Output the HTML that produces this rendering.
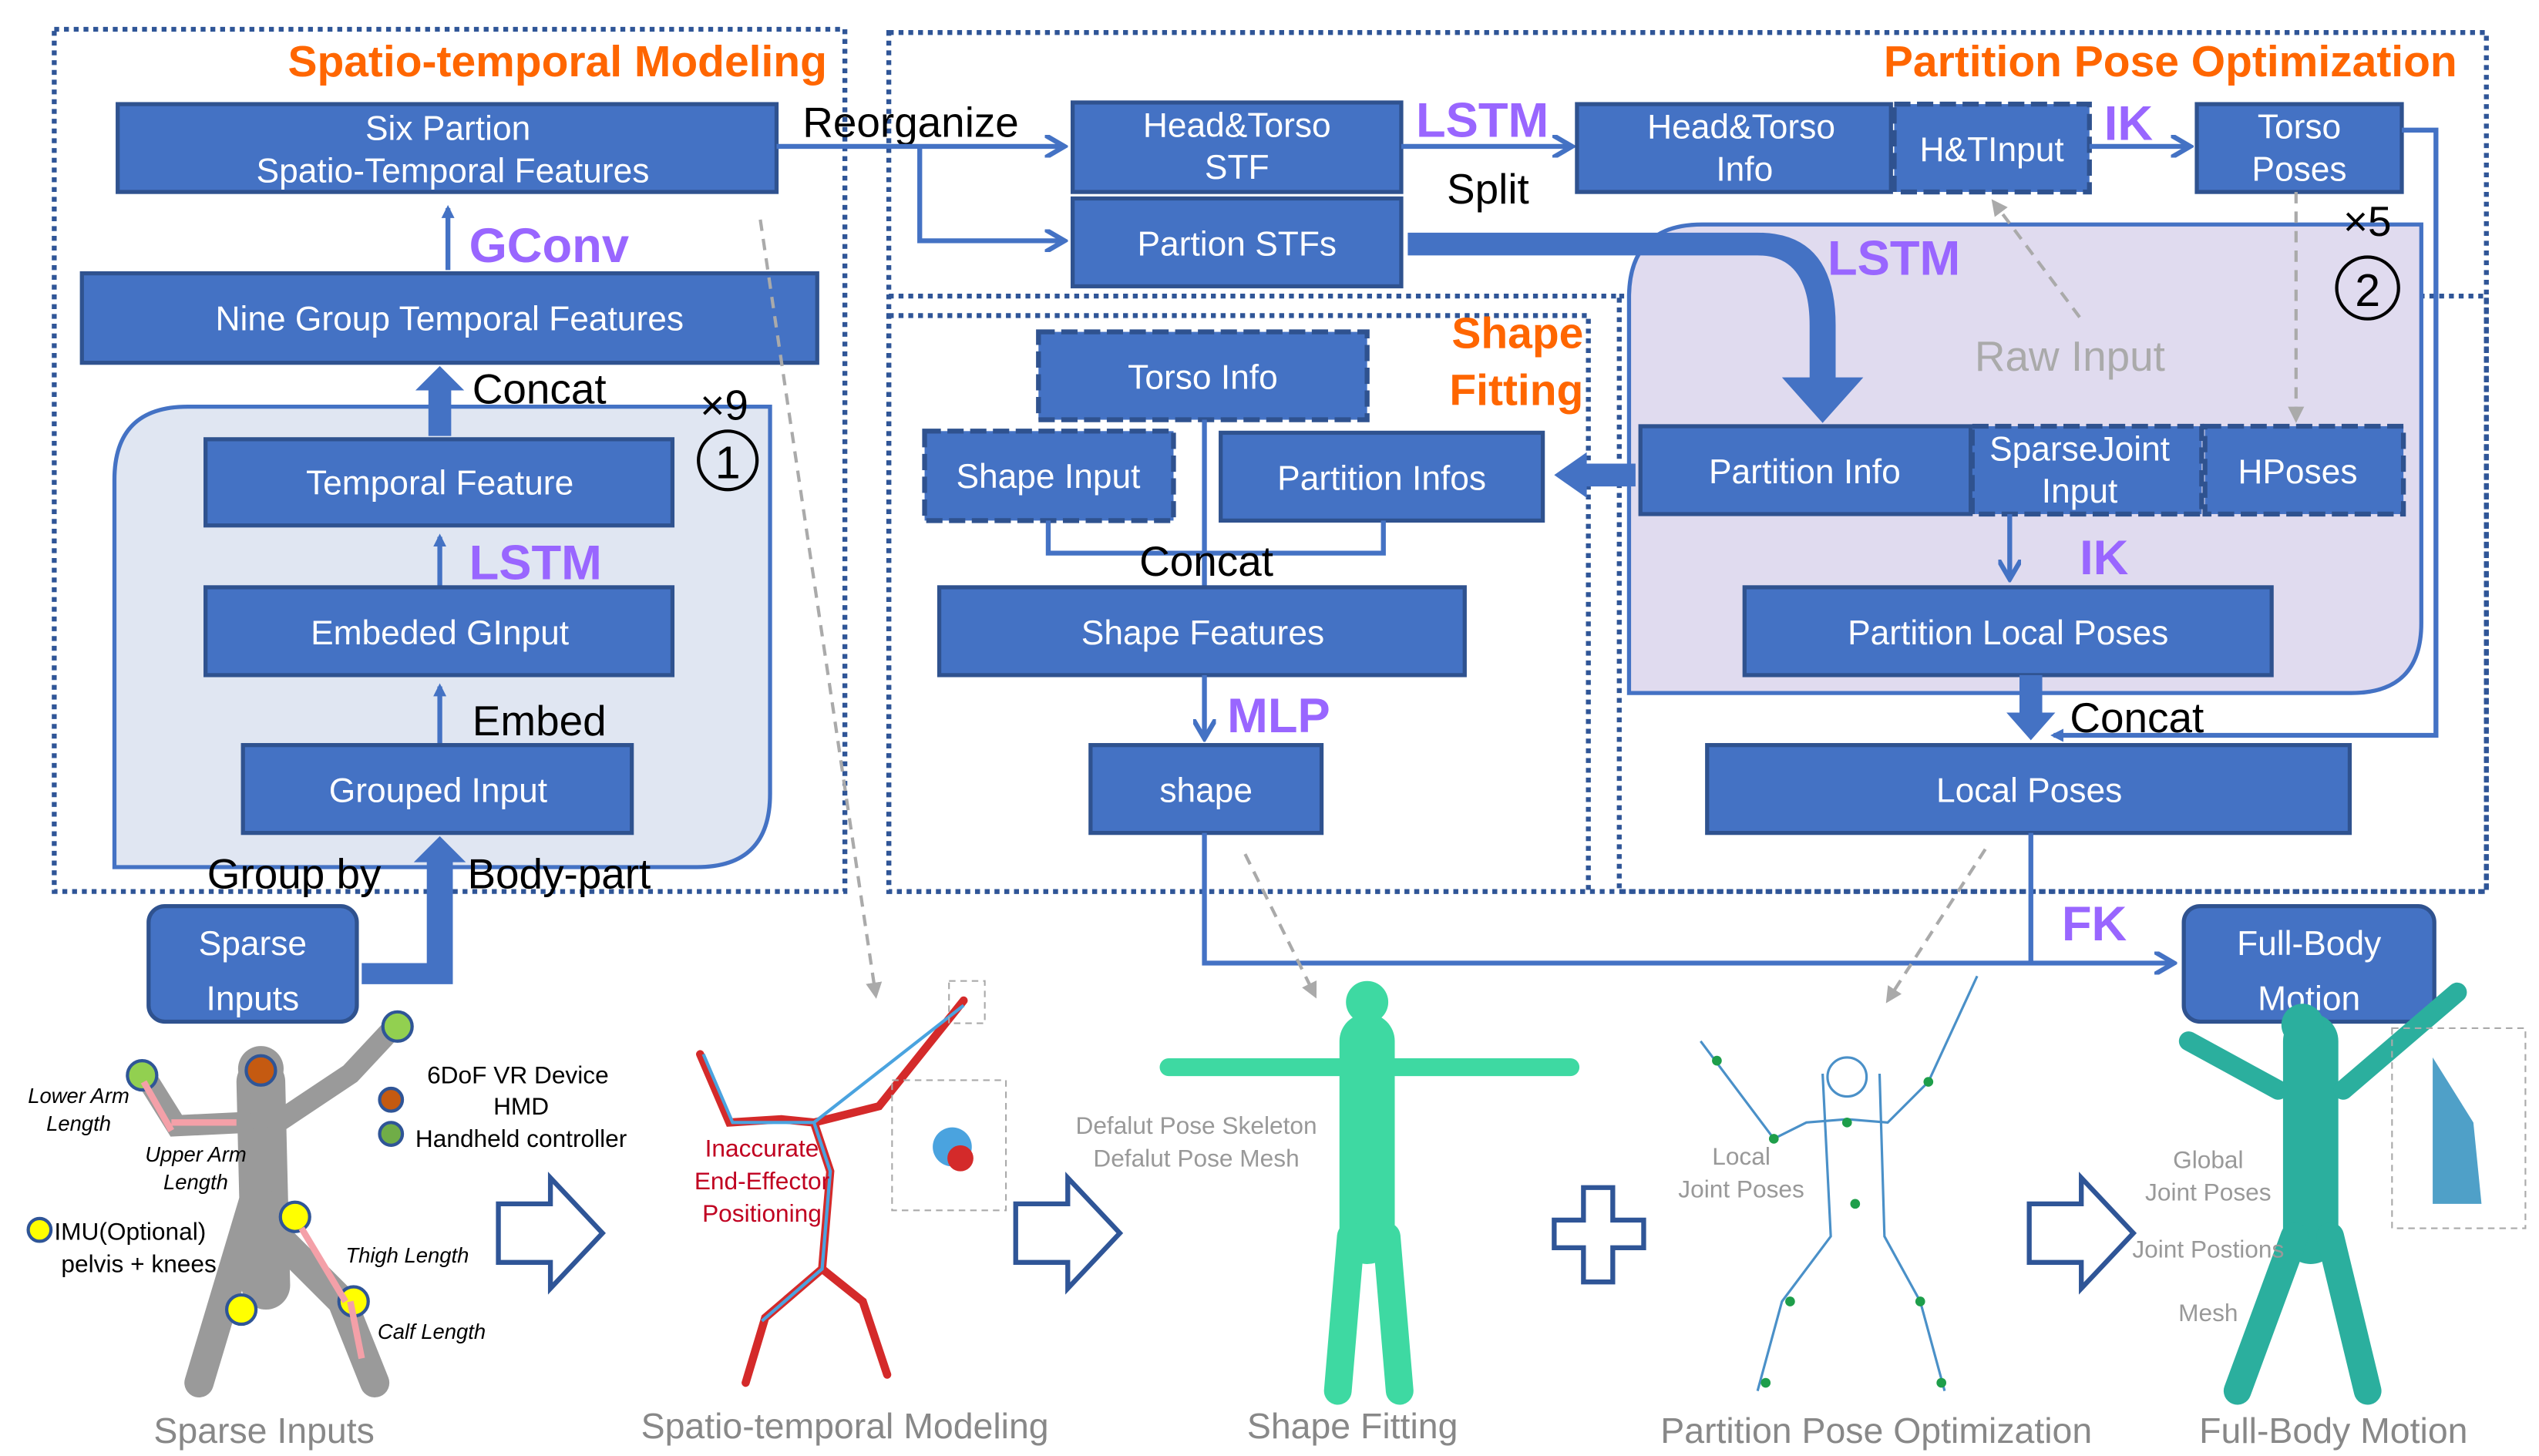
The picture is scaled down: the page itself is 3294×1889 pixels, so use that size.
<!DOCTYPE html>
<html><head><meta charset="utf-8"><style>
html,body{margin:0;padding:0;background:#fff}
svg{display:block}
text{font-family:"Liberation Sans",Arial,sans-serif}
.bx{fill:#4472C4;stroke:#2F528F;stroke-width:2.5}
.dbx{fill:#4472C4;stroke:#2F528F;stroke-width:3;stroke-dasharray:10 4}
.wt{fill:#fff;font-size:21px;text-anchor:middle}
.pu{fill:#9966FF;font-size:30px;font-weight:bold}
.or{fill:#FF6600;font-size:27px;font-weight:bold}
.bk{fill:#000;font-size:26px}
.gy{fill:#888;font-size:22px;text-anchor:middle}
.sg{fill:#999;font-size:15px;text-anchor:middle}
.ln{stroke:#4472C4;stroke-width:3;fill:none}
.dot{fill:none;stroke:#2F5597;stroke-width:3;stroke-dasharray:3 3}
.ga{stroke:#aaa;stroke-width:2;stroke-dasharray:7 5;fill:none}
</style></head><body>
<svg width="3294" height="1889" viewBox="0 0 1560 895" xmlns="http://www.w3.org/2000/svg">
<defs>
<marker id="ah" markerWidth="8" markerHeight="8" refX="6" refY="4" orient="auto" markerUnits="userSpaceOnUse"><path d="M0,0 L8,4 L0,8 z" fill="#4472C4"/></marker>
<marker id="ab" markerWidth="14" markerHeight="14" refX="10" refY="7" orient="auto" markerUnits="userSpaceOnUse"><path d="M0,0 L12,7 L0,14" fill="none" stroke="#4472C4" stroke-width="3"/></marker>
<marker id="ag" markerWidth="10" markerHeight="10" refX="8" refY="5" orient="auto" markerUnits="userSpaceOnUse"><path d="M0,0 L10,5 L0,10 z" fill="#aaa"/></marker>
</defs>

<rect x="33" y="18" width="486" height="530" class="dot"/>
<text x="508" y="47" class="or" text-anchor="end">Spatio-temporal Modeling</text>
<rect x="72" y="64" width="405" height="54" class="bx"/>
<text x="275" y="86" class="wt">Six Partion</text><text x="278" y="112" class="wt">Spatio-Temporal Features</text>
<line x1="275" y1="166" x2="275" y2="128" class="ln" stroke-width="5" marker-end="url(#ah)"/>
<text x="288" y="161" class="pu">GConv</text>
<rect x="50" y="168" width="452" height="55" class="bx"/>
<text x="276" y="203" class="wt">Nine Group Temporal Features</text>
<path d="M115,250 H473 V488 Q473,533 428,533 H70 V295 Q70,250 115,250 Z" fill="#E0E6F2" stroke="#4472C4" stroke-width="2.5"/>
<path d="M263,268 V240 H255 L270,225 L285,240 H277 V268 Z" fill="#4472C4"/>
<text x="290" y="248" class="bk">Concat</text>
<text x="430" y="258" class="bk">×9</text>
<circle cx="447" cy="283" r="18" fill="none" stroke="#000" stroke-width="2"/><text x="447" y="294" font-size="28" text-anchor="middle">1</text>
<rect x="126" y="270" width="287" height="53" class="bx"/><text x="270" y="304" class="wt">Temporal Feature</text>
<line x1="270" y1="360" x2="270" y2="330" class="ln" stroke-width="4" marker-end="url(#ah)"/>
<text x="288" y="356" class="pu">LSTM</text>
<rect x="126" y="361" width="287" height="54" class="bx"/><text x="270" y="396" class="wt">Embeded GInput</text>
<line x1="270" y1="457" x2="270" y2="422" class="ln" stroke-width="4" marker-end="url(#ah)"/>
<text x="290" y="452" class="bk">Embed</text>
<rect x="149" y="458" width="239" height="54" class="bx"/><text x="269" y="493" class="wt">Grouped Input</text>
<text x="127" y="546" class="bk">Group by</text><text x="287" y="546" class="bk">Body-part</text>
<path d="M222,592 H262 V530 H254 L270,514 L286,530 H278 V605 H222 Z" fill="#4472C4"/>
<rect x="91" y="557" width="128" height="71" rx="10" class="bx"/>
<text x="155" y="587" class="wt" font-size="29">Sparse</text><text x="155" y="621" class="wt" font-size="29">Inputs</text>

<rect x="546" y="20" width="982" height="528" class="dot"/>
<text x="1510" y="47" class="or" text-anchor="end">Partition Pose Optimization</text>
<line x1="546" y1="182" x2="996" y2="182" class="dot"/>
<rect x="546" y="194" width="430" height="354" class="dot"/>
<rect x="995" y="182" width="533" height="366" class="dot"/>
<text x="493" y="84" class="bk">Reorganize</text>
<line x1="477" y1="90" x2="652" y2="90" class="ln" stroke-width="4" marker-end="url(#ab)"/>
<path d="M565,90 V148 H652" class="ln" stroke-width="6" marker-end="url(#ab)"/>
<rect x="659" y="63" width="202" height="55" class="bx"/><text x="760" y="84" class="wt">Head&amp;Torso</text><text x="760" y="110" class="wt">STF</text>
<rect x="659" y="122" width="202" height="54" class="bx"/><text x="760" y="157" class="wt">Partion STFs</text>
<text x="870" y="84" class="pu">LSTM</text><text x="889" y="125" class="bk">Split</text>
<line x1="861" y1="90" x2="964" y2="90" class="ln" stroke-width="4" marker-end="url(#ab)"/>
<rect x="969" y="64" width="193" height="54" class="bx"/><text x="1070" y="85" class="wt">Head&amp;Torso</text><text x="1072" y="111" class="wt">Info</text>
<rect x="1164" y="64" width="120" height="54" class="dbx"/><text x="1224" y="99" class="wt">H&amp;TInput</text>
<text x="1293" y="86" class="pu">IK</text>
<line x1="1284" y1="90" x2="1344" y2="90" class="ln" stroke-width="4" marker-end="url(#ab)"/>
<rect x="1350" y="64" width="126" height="54" class="bx"/><text x="1413" y="85" class="wt">Torso</text><text x="1413" y="111" class="wt">Poses</text>
<path d="M1046,138 H1488 V383 Q1488,426 1445,426 H1001 V183 Q1001,138 1046,138 Z" fill="#E0DBEF" stroke="#4472C4" stroke-width="2.5"/>
<text x="1440" y="145" class="bk">×5</text>
<circle cx="1455" cy="177" r="19" fill="none" stroke="#000" stroke-width="2"/><text x="1455" y="188" font-size="28" text-anchor="middle">2</text>
<path d="M865,143 H1080 Q1128,143 1128,200 V232 H1145 L1120,260 L1095,232 H1112 V200 Q1112,157 1080,157 H865 Z" fill="#4472C4"/>
<text x="1123" y="169" class="pu">LSTM</text>
<text x="1272" y="228" fill="#aaa" font-size="26" text-anchor="middle">Raw Input</text>
<path d="M1278,195 L1225,124" class="ga" marker-end="url(#ag)"/>
<path d="M1411,118 V258" class="ga" marker-end="url(#ag)"/>
<rect x="1008" y="262" width="203" height="54" class="bx"/><text x="1109" y="297" class="wt">Partition Info</text>
<rect x="1212" y="262" width="141" height="54" class="dbx"/><text x="1278" y="283" class="wt">SparseJoint</text><text x="1278" y="309" class="wt">Input</text>
<rect x="1355" y="262" width="122" height="54" class="dbx"/><text x="1412" y="297" class="wt">HPoses</text>
<line x1="1235" y1="316" x2="1235" y2="354" class="ln" stroke-width="4" marker-end="url(#ab)"/>
<text x="1278" y="353" class="pu">IK</text>
<rect x="1072" y="361" width="324" height="54" class="bx"/><text x="1234" y="396" class="wt">Partition Local Poses</text>
<path d="M1241,415 V438 H1233 L1248,455 L1263,438 H1255 V415 Z" fill="#4472C4"/>
<text x="1272" y="450" class="bk">Concat</text>
<path d="M1476,80 H1497 V452 H1262" class="ln" stroke-width="3" marker-end="url(#ah)"/>
<rect x="1049" y="458" width="395" height="54" class="bx"/><text x="1247" y="493" class="wt">Local Poses</text>
<path d="M1005,285 H975 V278 L955,292 L975,306 V299 H1005 Z" fill="#4472C4"/>
<rect x="638" y="204" width="202" height="54" class="dbx"/><text x="739" y="239" class="wt">Torso Info</text>
<rect x="568" y="265" width="153" height="55" class="dbx"/><text x="644" y="300" class="wt">Shape Input</text>
<rect x="750" y="266" width="198" height="54" class="bx"/><text x="849" y="301" class="wt">Partition Infos</text>
<text x="973" y="214" class="or" text-anchor="end">Shape</text><text x="973" y="249" class="or" text-anchor="end">Fitting</text>
<line x1="740" y1="258" x2="740" y2="360" class="ln"/>
<path d="M644,320 V340 H850 V320" class="ln"/>
<text x="700" y="354" class="bk">Concat</text>
<rect x="577" y="361" width="323" height="54" class="bx"/><text x="739" y="396" class="wt">Shape Features</text>
<line x1="740" y1="415" x2="740" y2="452" class="ln" stroke-width="4" marker-end="url(#ab)"/>
<text x="754" y="450" class="pu">MLP</text>
<rect x="670" y="458" width="142" height="54" class="bx"/><text x="741" y="493" class="wt">shape</text>
<path d="M740,512 V592 H1334" class="ln" marker-end="url(#ab)"/>
<line x1="1248" y1="512" x2="1248" y2="592" class="ln"/>
<text x="1267" y="578" class="pu">FK</text>
<rect x="1342" y="557" width="154" height="71" rx="10" class="bx"/>
<text x="1419" y="587" class="wt" font-size="29">Full-Body</text><text x="1419" y="621" class="wt" font-size="29">Motion</text>

<path d="M467,135 L538,612" class="ga" marker-end="url(#ag)"/>
<path d="M765,525 L808,612" class="ga" marker-end="url(#ag)"/>
<path d="M1220,522 L1160,615" class="ga" marker-end="url(#ag)"/>

<g stroke="#9a9a9a" stroke-linecap="round" fill="none">
<path d="M160,665 L163,790" stroke-width="30"/>
<path d="M158,730 L140,790 L122,850" stroke-width="18"/>
<path d="M170,760 L210,800 L230,850" stroke-width="18"/>
<path d="M150,690 L108,692 L88,660" stroke-width="13"/>
<path d="M170,690 L215,660 L243,630" stroke-width="13"/>
</g>
<circle cx="160" cy="657" r="14" fill="#9a9a9a"/>
<circle cx="160" cy="658" r="9" fill="#C55A11" stroke="#2F5597" stroke-width="2"/>
<circle cx="87" cy="661" r="9" fill="#92D050" stroke="#2F5597" stroke-width="2"/>
<circle cx="244" cy="631" r="9" fill="#92D050" stroke="#2F5597" stroke-width="2"/>
<circle cx="181" cy="748" r="9" fill="#FFFF00" stroke="#2F5597" stroke-width="2"/>
<circle cx="148" cy="805" r="9" fill="#FFFF00" stroke="#2F5597" stroke-width="2"/>
<circle cx="217" cy="800" r="9" fill="#FFFF00" stroke="#2F5597" stroke-width="2"/>
<g stroke="#F4A0A8" stroke-width="4" fill="none"><path d="M88,665 L105,695"/><path d="M105,690 L145,690"/><path d="M185,755 L212,800"/><path d="M215,800 L222,835"/></g>
<g font-size="13" font-style="italic" fill="#000" text-anchor="middle">
<text x="48" y="678">Lower Arm</text><text x="48" y="695">Length</text>
<text x="120" y="714">Upper Arm</text><text x="120" y="731">Length</text>
<text x="250" y="776">Thigh Length</text><text x="265" y="823">Calf Length</text></g>
<circle cx="240" cy="676" r="7" fill="#C55A11" stroke="#2F5597" stroke-width="2"/>
<circle cx="240" cy="697" r="7" fill="#70AD47" stroke="#2F5597" stroke-width="2"/>
<text x="318" y="666" font-size="15" text-anchor="middle">6DoF VR Device</text>
<text x="320" y="685" font-size="15" text-anchor="middle">HMD</text>
<text x="320" y="705" font-size="15" text-anchor="middle">Handheld controller</text>
<circle cx="24" cy="756" r="7" fill="#FFFF00" stroke="#2F5597" stroke-width="2"/>
<text x="33" y="762" font-size="15">IMU(Optional)</text>
<text x="85" y="782" font-size="15" text-anchor="middle">pelvis +  knees</text>
<text x="162" y="887" class="gy">Sparse Inputs</text>

<g fill="#fff" stroke="#2F5597" stroke-width="3">
<path d="M306,740 H338 V724 L370,758 L338,792 V776 H306 Z"/>
<path d="M624,740 H656 V724 L688,758 L656,792 V776 H624 Z"/>
<path d="M1247,740 H1279 V724 L1311,758 L1279,792 V776 H1247 Z"/>
<path d="M973,730 H991 V750 H1010 V767 H991 V788 H973 V767 H955 V750 H973 Z"/>
</g>

<g stroke="#D42A2A" stroke-width="5" stroke-linecap="round" fill="none">
<path d="M430,648 L448,690 L480,688 L500,690 L510,720 L505,780 L470,810 L458,850"/>
<path d="M505,780 L530,800 L545,845"/><path d="M500,690 L540,680 L592,615"/>
</g>
<g stroke="#4AA3DF" stroke-width="2" fill="none"><path d="M432,648 L450,690 L500,690 L510,720 L505,780 L468,812"/><path d="M500,690 L592,618"/></g>
<rect x="548" y="664" width="70" height="80" fill="none" stroke="#aaa" stroke-dasharray="4 3"/>
<rect x="583" y="603" width="22" height="26" fill="none" stroke="#aaa" stroke-dasharray="4 3"/>
<circle cx="585" cy="705" r="12" fill="#4AA3DF"/><circle cx="590" cy="712" r="8" fill="#D42A2A"/>
<text x="468" y="711" font-size="15" fill="#C00020" text-anchor="middle">Inaccurate</text>
<text x="468" y="731" font-size="15" fill="#C00020" text-anchor="middle">End-Effector</text>
<text x="468" y="751" font-size="15" fill="#C00020" text-anchor="middle">Positioning</text>
<text x="519" y="884" class="gy">Spatio-temporal Modeling</text>

<g stroke="#3ED9A2" stroke-linecap="round" fill="none">
<path d="M840,640 L840,760" stroke-width="34"/>
<path d="M718,656 L965,656" stroke-width="11"/>
<path d="M830,760 L822,855" stroke-width="17"/><path d="M852,760 L860,855" stroke-width="17"/>
</g>
<circle cx="840" cy="616" r="13" fill="#3ED9A2"/>
<text x="735" y="697" class="sg">Defalut Pose Skeleton</text>
<text x="735" y="717" class="sg">Defalut Pose Mesh</text>
<text x="831" y="884" class="gy">Shape Fitting</text>

<g stroke="#4A90C8" stroke-width="1.5" fill="none">
<path d="M1045,640 L1090,700 L1110,690 L1135,688 L1160,690 L1185,665 L1215,600"/>
<path d="M1120,660 L1125,760 L1095,800 L1080,855"/><path d="M1155,660 L1158,760 L1180,800 L1195,855"/>
<circle cx="1135" cy="662" r="12"/>
</g>
<g fill="#1E9E4A"><circle cx="1055" cy="652" r="3"/><circle cx="1090" cy="700" r="3"/><circle cx="1135" cy="690" r="3"/><circle cx="1185" cy="665" r="3"/><circle cx="1140" cy="740" r="3"/><circle cx="1100" cy="800" r="3"/><circle cx="1180" cy="800" r="3"/><circle cx="1085" cy="850" r="3"/><circle cx="1193" cy="850" r="3"/></g>
<text x="1070" y="716" class="sg">Local</text><text x="1070" y="736" class="sg">Joint Poses</text>
<text x="1153" y="887" class="gy">Partition Pose Optimization</text>

<g stroke="#2BAF9E" stroke-linecap="round" fill="none">
<path d="M1420,640 L1420,760" stroke-width="34"/>
<path d="M1345,640 L1400,670" stroke-width="12"/><path d="M1440,670 L1510,610" stroke-width="12"/>
<path d="M1410,760 L1375,855" stroke-width="17"/><path d="M1432,760 L1455,855" stroke-width="17"/>
</g>
<circle cx="1415" cy="630" r="13" fill="#2BAF9E"/>
<rect x="1470" y="632" width="82" height="123" fill="none" stroke="#aaa" stroke-dasharray="4 3"/>
<path d="M1495,650 L1520,690 L1525,740 L1495,740 Z" fill="#4FA0C8"/>
<text x="1357" y="718" class="sg">Global</text><text x="1357" y="738" class="sg">Joint Poses</text>
<text x="1357" y="773" class="sg">Joint Postions</text><text x="1357" y="812" class="sg">Mesh</text>
<text x="1434" y="887" class="gy">Full-Body  Motion</text>
</svg>
</body></html>
